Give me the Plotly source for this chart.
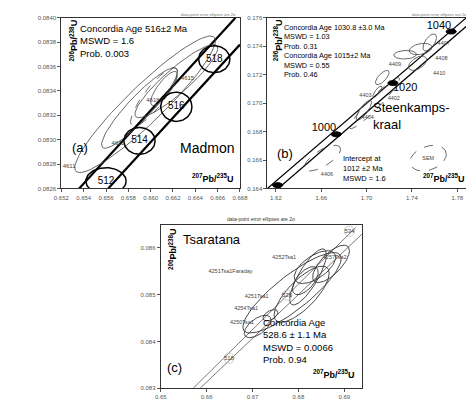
import numpy as np
import plotly.graph_objs as go

# ---- panel (a) Madmon ----
a_age_lbl = ["512", "514", "516", "518"]
a_age_x = [0.6560, 0.6590, 0.6623, 0.6657]
a_age_y = [0.08266, 0.08299, 0.08327, 0.08366]
a_age_sx = [0.0018, 0.0014, 0.0014, 0.0014]
a_age_sy = [0.00011, 0.00011, 0.00012, 0.00011]
a_ell_x = [0.6595, 0.6590, 0.6623, 0.6603, 0.6612]
a_ell_y = [0.08329, 0.08326, 0.08348, 0.08335, 0.08342]
a_ell_sx = [0.0063, 0.0034, 0.0037, 0.0021, 0.0012]
a_ell_sy = [0.00056, 0.00033, 0.00030, 0.00024, 0.00014]
a_ell_rho = [0.93, 0.91, 0.90, 0.85, 0.80]
a_ell_dash = ["solid", "solid", "solid", "dash", "solid"]
a_lbl = ["4611", "4612", "4615", "4616"]
a_lbl_x = [0.6527, 0.6571, 0.6633, 0.6602]
a_lbl_y = [0.08278, 0.08297, 0.08350, 0.08332]
a_band1_x = [0.6536, 0.6676]
a_band1_y = [0.0826, 0.0840]
a_band2_x = [0.6562, 0.6680]
a_band2_y = [0.0826, 0.08378]

# ---- panel (b) Steenkampskraal ----
b_age_lbl = ["", "1000", "1020", "1040"]
b_age_x = [1.6215, 1.6732, 1.7232, 1.7746]
b_age_y = [0.16423, 0.16781, 0.17141, 0.17503]
b_ell_x = [1.661, 1.6976, 1.7095, 1.7138, 1.7070, 1.7449, 1.7476, 1.734, 1.7557, 1.7543]
b_ell_y = [0.16613, 0.1695, 0.1708, 0.1718, 0.1700, 0.1728, 0.1738, 0.1734, 0.17426, 0.16613]
b_ell_sx = [0.016, 0.0068, 0.004, 0.006, 0.022, 0.008, 0.010, 0.010, 0.006, 0.016]
b_ell_sy = [0.0009, 0.0007, 0.0004, 0.0005, 0.0018, 0.0005, 0.0004, 0.0003, 0.0006, 0.0009]
b_ell_rho = [0.7, 0.8, 0.8, 0.7, 0.95, 0.5, 0.3, 0.1, 0.6, 0.3]
b_ell_dash = ["dash", "solid", "solid", "solid", "dash", "solid", "solid", "solid", "solid", "dash"]
b_lbl = ["4406", "4404", "4403", "4402", "4409", "4410", "4408", "4407", "SEM"]
b_lbl_x = [1.6650, 1.7010, 1.6990, 1.7240, 1.7250, 1.7640, 1.7660, 1.7680, 1.7543]
b_lbl_y = [0.1650, 0.1690, 0.1705, 0.1703, 0.1727, 0.1721, 0.1731, 0.1742, 0.16613]
b_band1_x = [1.6124, 1.7880]
b_band1_y = [0.1640, 0.1760]
b_band2_x = [1.6219, 1.7895]
b_band2_y = [0.1640, 0.1755]

# ---- panel (c) Tsaratana ----
c_age_lbl = ["518", "526", "534"]
c_age_x = [0.66486, 0.6775, 0.6911]
c_age_y = [0.08364, 0.08499, 0.08636]
c_ell_x = [0.6711, 0.6739, 0.6786, 0.6807, 0.6821, 0.6836, 0.6871, 0.6815]
c_ell_y = [0.08432, 0.08456, 0.08504, 0.08501, 0.08538, 0.08559, 0.08566, 0.08530]
c_ell_sx = [0.0029, 0.0016, 0.0107, 0.0060, 0.0040, 0.0045, 0.0040, 0.0028]
c_ell_sy = [0.00024, 0.00012, 0.00086, 0.00060, 0.00060, 0.00035, 0.00040, 0.00030]
c_ell_rho = [0.6, 0.5, 0.85, 0.75, 0.8, 0.6, 0.7, 0.6]
c_lbl = ["4250Tsa1", "4254Tsa1", "4251Tsa1", "4251Tsa1Faraday", "4252Tsa1", "4257Tsa2"]
c_lbl_x = [0.6703, 0.6712, 0.6735, 0.6700, 0.6795, 0.6905]
c_lbl_y = [0.08440, 0.08471, 0.08496, 0.08550, 0.08580, 0.08580]
c_band1_x = [0.6571, 0.6925]
c_band1_y = [0.0830, 0.08644]
c_band2_x = [0.6586, 0.6943]
c_band2_y = [0.0830, 0.08634]

FONT = "Liberation Sans, Arial, sans-serif"
t = np.linspace(0, 2 * np.pi, 80)


def ellipse(cx, cy, sx, sy, rho):
    x = cx + sx * np.cos(t)
    y = cy + sy * (rho * np.cos(t) + np.sqrt(1 - rho ** 2) * np.sin(t))
    return x, y


fig = go.Figure()
panels = [
    ("x", "y", [0.652, 0.668], [0.0826, 0.0840], [0.099, 0.489], [0.553, 0.983], 0.002, 0.0002, ".3f", ".4f"),
    ("x2", "y2", [1.6125, 1.7915], [0.164, 0.176], [0.549, 0.992], [0.553, 0.983], 0.04, 0.002, ".2f", ".3f"),
    ("x3", "y3", [0.65, 0.6938], [0.083, 0.0865], [0.316, 0.755], [0.05, 0.462], 0.01, 0.001, ".2f", ".3f"),
]
for i, (xa, ya, xr, yr, xd, yd, dx, dy, fx, fy) in enumerate(panels):
    n = "" if i == 0 else str(i + 1)
    common = dict(showline=True, linecolor="#333", linewidth=1, mirror=True, ticks="outside",
                  ticklen=3, tickcolor="#555", showgrid=False, zeroline=False,
                  tickfont=dict(size=6, color="#555", family=FONT))
    fig.layout["xaxis" + n] = dict(common, range=xr, domain=xd, dtick=dx, tick0=xr[0] if i != 1 else 1.62,
                                   tickformat=fx, anchor="y" + n)
    fig.layout["yaxis" + n] = dict(common, range=yr, domain=yd, dtick=dy, tickformat=fy, anchor="x" + n)


def add_lines(xs, ys, xa, ya, width, color="black", dash="solid"):
    fig.add_trace(go.Scatter(x=xs, y=ys, mode="lines", xaxis=xa, yaxis=ya, showlegend=False,
                             line=dict(color=color, width=width, dash=dash), hoverinfo="skip"))


def add_labels(xs, ys, texts, xa, ya, size, color="#333"):
    fig.add_trace(go.Scatter(x=xs, y=ys, text=texts, mode="text", xaxis=xa, yaxis=ya, showlegend=False,
                             textfont=dict(size=size, color=color, family=FONT), hoverinfo="skip"))


# panel a
add_lines(a_band1_x, a_band1_y, "x", "y", 2.2)
add_lines(a_band2_x, a_band2_y, "x", "y", 2.2)
for cx, cy, sx, sy, r, d in zip(a_ell_x, a_ell_y, a_ell_sx, a_ell_sy, a_ell_rho, a_ell_dash):
    ex, ey = ellipse(cx, cy, sx, sy, r)
    add_lines(ex, ey, "x", "y", 0.8, "#444", d)
for cx, cy, sx, sy in zip(a_age_x, a_age_y, a_age_sx, a_age_sy):
    ex, ey = ellipse(cx, cy, sx, sy, 0)
    add_lines(ex, ey, "x", "y", 1.5)
add_labels(a_age_x, a_age_y, a_age_lbl, "x", "y", 10, "black")
add_labels(a_lbl_x, a_lbl_y, a_lbl, "x", "y", 6, "#444")

# panel b
add_lines(b_band1_x, b_band1_y, "x2", "y2", 1.2)
add_lines(b_band2_x, b_band2_y, "x2", "y2", 1.2)
for cx, cy, sx, sy, r, d in zip(b_ell_x, b_ell_y, b_ell_sx, b_ell_sy, b_ell_rho, b_ell_dash):
    ex, ey = ellipse(cx, cy, sx, sy, r)
    add_lines(ex, ey, "x2", "y2", 0.8, "#444", d)
for cx, cy in zip(b_age_x, b_age_y):
    ex, ey = ellipse(cx, cy, 0.0045, 0.00018, 0)
    fig.add_trace(go.Scatter(x=ex, y=ey, mode="lines", fill="toself", fillcolor="black", xaxis="x2",
                             yaxis="y2", line=dict(color="black", width=1), showlegend=False))
fig.add_trace(go.Scatter(x=b_age_x[1:], y=b_age_y[1:], text=b_age_lbl[1:], mode="text",
                         textposition=["top left", "bottom right", "top left"], xaxis="x2", yaxis="y2",
                         showlegend=False, textfont=dict(size=11, color="black", family=FONT)))
add_labels(b_lbl_x, b_lbl_y, b_lbl, "x2", "y2", 5.5, "#444")

# panel c
add_lines(c_band1_x, c_band1_y, "x3", "y3", 0.8, "#555")
add_lines(c_band2_x, c_band2_y, "x3", "y3", 0.8, "#555")
for cx, cy, sx, sy, r in zip(c_ell_x, c_ell_y, c_ell_sx, c_ell_sy, c_ell_rho):
    ex, ey = ellipse(cx, cy, sx, sy, r)
    add_lines(ex, ey, "x3", "y3", 0.9, "#333")
for cx, cy in zip(c_age_x, c_age_y):
    ex, ey = ellipse(cx, cy, 0.0011, 0.00011, 0)
    add_lines(ex, ey, "x3", "y3", 0.8, "#bbb")
add_labels(c_age_x, c_age_y, c_age_lbl, "x3", "y3", 6, "#444")
fig.add_trace(go.Scatter(x=c_lbl_x, y=c_lbl_y, text=c_lbl, mode="text", textposition="middle left",
                         xaxis="x3", yaxis="y3", showlegend=False,
                         textfont=dict(size=5.5, color="#444", family=FONT)))

ylab = "<b><sup>206</sup>Pb/<sup>238</sup>U</b>"
xlab = "<b><sup>207</sup>Pb/<sup>235</sup>U</b>"
ann = []


def txt(x, y, s, size, xa="left", ya="top", angle=0, color="black"):
    ann.append(dict(x=x, y=y, xref="paper", yref="paper", text=s, showarrow=False, xanchor=xa,
                    yanchor=ya, textangle=angle, align="left",
                    font=dict(size=size, color=color, family=FONT)))


# a
txt(0.108, 0.985, ylab, 9, angle=-90)
txt(0.135, 0.975, "Concordia Age 516±2 Ma<br>MSWD = 1.6<br>Prob. 0.003", 9.5)
txt(0.118, 0.68, "(a)", 13)
txt(0.48, 0.68, "Madmon", 14, xa="right")
txt(0.48, 0.60, xlab, 9, xa="right")
txt(0.485, 0.99, "data-point error ellipses are 2σ", 4, xa="right", ya="middle", color="#777")
# b
txt(0.555, 0.985, ylab, 9, angle=-90)
txt(0.58, 0.975, "Concordia Age 1030.8 ±3.0 Ma<br>MSWD = 1.03<br>Prob. 0.31<br>"
                 "Concordia Age 1015±2 Ma<br>MSWD = 0.55<br>Prob. 0.46", 7.3)
txt(0.775, 0.78, "Steenkamps-<br>kraal", 13)
txt(0.565, 0.665, "(b)", 13)
txt(0.71, 0.645, "Intercept at<br>1012 ±2 Ma<br>MSWD = 1.6", 7.5)
txt(0.985, 0.60, xlab, 9, xa="right")
txt(0.99, 0.99, "data-point error ellipses are 2σ", 4, xa="right", ya="middle", color="#777")
# c
txt(0.535, 0.477, "data-point error ellipses are 2σ", 5, xa="center", ya="middle", color="#333")
txt(0.325, 0.458, ylab, 9, angle=-90)
txt(0.36, 0.448, "Tsaratana", 13)
txt(0.535, 0.235, "Concordia Age<br>528.6 ± 1.1 Ma<br>MSWD = 0.0066<br>Prob. 0.94", 9.5)
txt(0.325, 0.125, "(c)", 13)
txt(0.745, 0.105, xlab, 9, xa="right")

fig.update_layout(width=474, height=403, margin=dict(l=0, r=0, t=0, b=0), plot_bgcolor="white",
                  paper_bgcolor="white", annotations=ann, showlegend=False)
fig.write_html("out.html")
